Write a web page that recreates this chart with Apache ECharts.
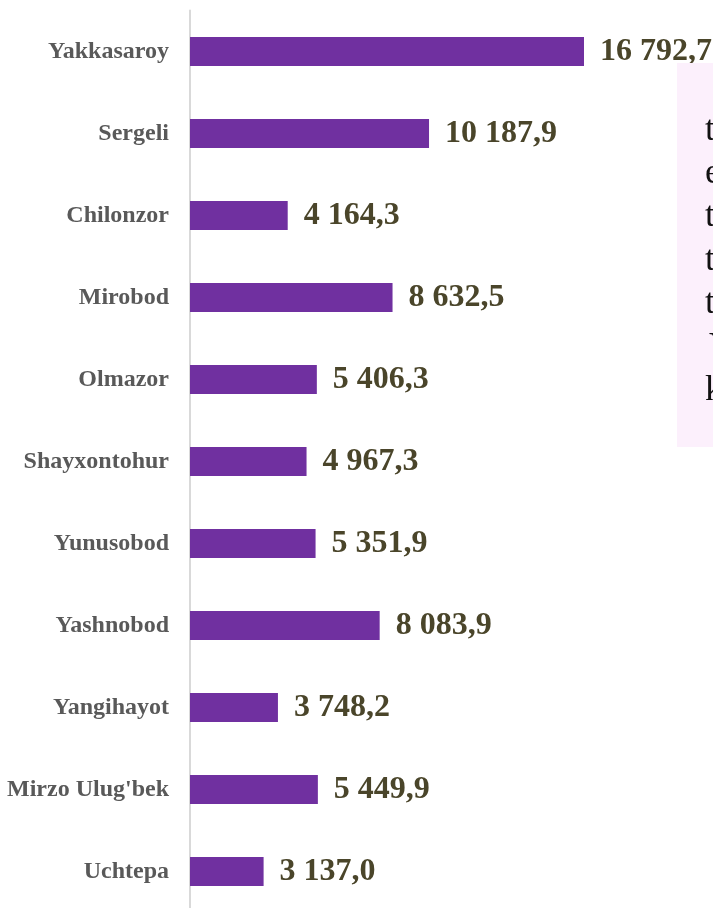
<!DOCTYPE html>
<html>
<head>
<meta charset="utf-8">
<script src="https://cdn.jsdelivr.net/npm/echarts@6/dist/echarts.min.js"></script>
<style>
html,body{margin:0;padding:0;background:#fff;}
#c{width:713px;height:908px;}
</style>
</head>
<body>
<div id="c"></div>
<script>
var categories = ["Yakkasaroy","Sergeli","Chilonzor","Mirobod","Olmazor","Shayxontohur","Yunusobod","Yashnobod","Yangihayot","Mirzo Ulug'bek","Uchtepa"];
var values = [16792.7, 10187.9, 4164.3, 8632.5, 5406.3, 4967.3, 5351.9, 8083.9, 3748.2, 5449.9, 3137.0];
var boxLines = ["t","e","t","t","t","Y","k"];

function fmt(v){
  var s = v.toFixed(1).split('.');
  var i = s[0].replace(/\B(?=(\d{3})+(?!\d))/g, ' ');
  return i + ',' + s[1];
}

var chart = echarts.init(document.getElementById('c'), null, {renderer:'canvas'});
var graphics = [{
  type:'rect', left:677, top:63, shape:{width:60, height:384}, style:{fill:'#FCF0FC'}, z:10
}];
var baselines = [143,186,229,273,316,360,403];
boxLines.forEach(function(t, i){
  graphics.push({
    type:'text', left:(t==='Y'?709:705), top:baselines[i]-30, z:11,
    style:{text:t, fill:'#111', font:'36px "Liberation Serif", serif'}
  });
});

chart.setOption({
  animation:false,
  grid:{left:190, top:10.5, width:523, height:902, containLabel:false, outerBoundsMode:'none'},
  xAxis:{type:'value', min:0, max:22291, show:false},
  yAxis:{
    type:'category', data:categories, inverse:true,
    axisLine:{show:true, lineStyle:{color:'#D9D9D9', width:2}},
    axisTick:{show:false},
    axisLabel:{margin:21, color:'#595959', fontFamily:'"Liberation Serif", serif', fontWeight:'bold', fontSize:24}
  },
  series:[{
    type:'bar', data:values, barWidth:29,
    itemStyle:{color:'#7030A0'},
    label:{show:true, position:'right', distance:16, color:'#4A452A',
      fontFamily:'"Liberation Serif", serif', fontWeight:'bold', fontSize:32,
      formatter:function(p){return fmt(p.value);}}
  }],
  graphic:graphics
});
</script>
</body>
</html>
